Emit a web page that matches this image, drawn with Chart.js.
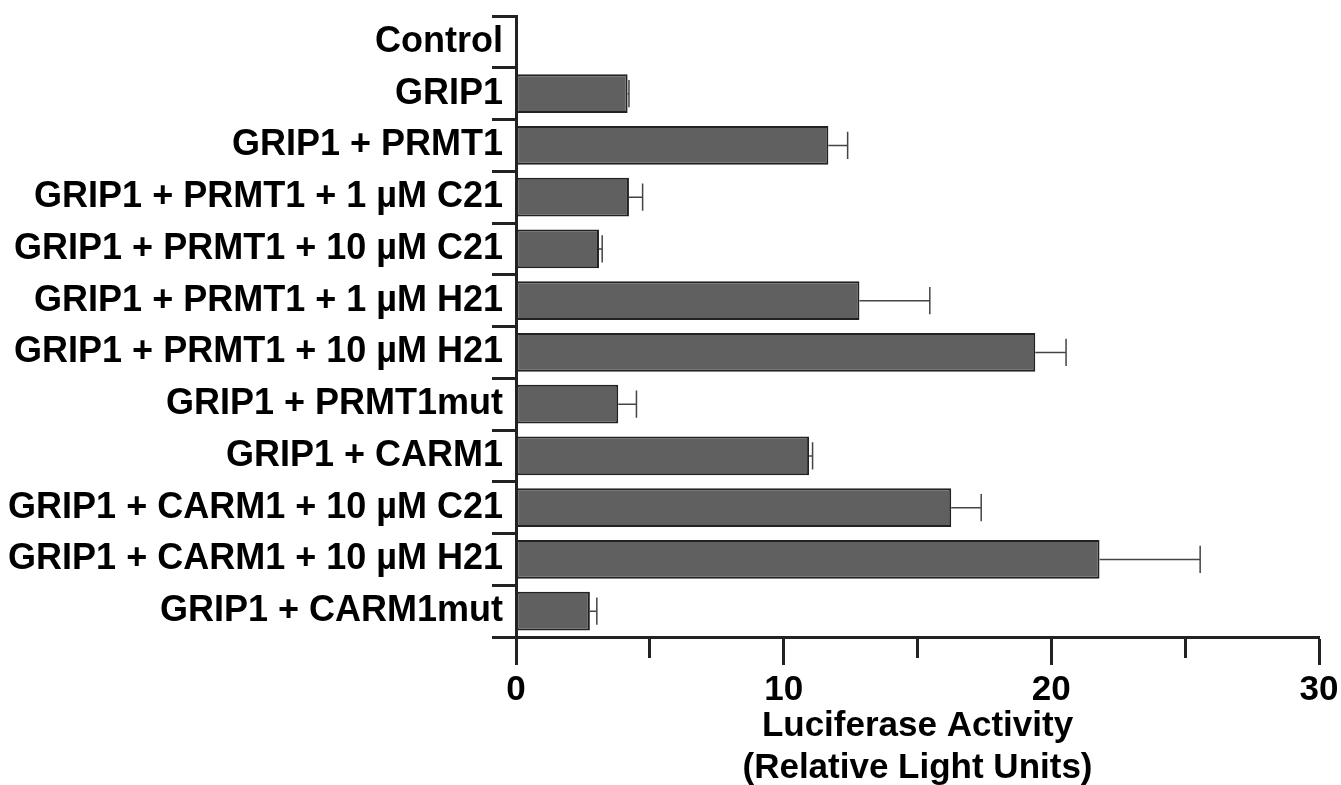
<!DOCTYPE html>
<html>
<head>
<meta charset="utf-8">
<script src="https://cdn.jsdelivr.net/npm/chart.js@4"></script>
<style>
  html, body { margin: 0; padding: 0; background: #fff; }
  #wrap { width: 1341px; height: 785px; position: relative; }
</style>
</head>
<body>
<div id="wrap"><canvas id="lucChart"></canvas></div>
<script>
// Luciferase activity by treatment
const categories = [
    'Control',
    'GRIP1',
    'GRIP1 + PRMT1',
    'GRIP1 + PRMT1 + 1 µM C21',
    'GRIP1 + PRMT1 + 10 µM C21',
    'GRIP1 + PRMT1 + 1 µM H21',
    'GRIP1 + PRMT1 + 10 µM H21',
    'GRIP1 + PRMT1mut',
    'GRIP1 + CARM1',
    'GRIP1 + CARM1 + 10 µM C21',
    'GRIP1 + CARM1 + 10 µM H21',
    'GRIP1 + CARM1mut'
];
const activity = [0, 4.17, 11.67, 4.22, 3.10, 12.83, 19.40, 3.82, 10.95, 16.26, 21.80, 2.76];
const activityErr = [0, 0.05, 0.72, 0.51, 0.12, 2.63, 1.15, 0.68, 0.13, 1.12, 3.76, 0.26];
const xTickLabels = [0, 10, 20, 30];

// one-sided error bars (right side only)
const errorBars = {
    id: 'errorBars',
    afterDatasetsDraw(chart) {
        const ctx = chart.ctx;
        const xScale = chart.scales.x;
        const meta = chart.getDatasetMeta(0);
        ctx.save();
        ctx.strokeStyle = '#444';
        ctx.lineWidth = 1.5;
        meta.data.forEach(function(bar, i) {
            const err = activityErr[i];
            if (!err) return;
            const x0 = xScale.getPixelForValue(activity[i]);
            const x1 = xScale.getPixelForValue(activity[i] + err);
            const half = bar.height * 0.35;
            ctx.beginPath();
            ctx.moveTo(x0, bar.y);
            ctx.lineTo(x1, bar.y);
            ctx.moveTo(x1, bar.y - half);
            ctx.lineTo(x1, bar.y + half);
            ctx.stroke();
        });
        ctx.restore();
    }
};

Chart.defaults.font.family = '"Liberation Sans", Arial, sans-serif';
Chart.defaults.color = '#000';

new Chart(document.getElementById('lucChart').getContext('2d'), {
    type: 'bar',
    data: {
        labels: categories,
        datasets: [{
            label: 'Luciferase Activity',
            data: activity,
            backgroundColor: '#606060',
            borderColor: '#222',
            borderWidth: 2,
            borderSkipped: false,
            barPercentage: 0.75,
            categoryPercentage: 1
        }]
    },
    options: {
        indexAxis: 'y',
        responsive: true,
        maintainAspectRatio: false,
        animation: false,
        layout: { padding: { left: 0, top: 16, right: 0, bottom: 0 } },
        plugins: {
            legend: { display: false },
            tooltip: { enabled: false }
        },
        scales: {
            x: {
                min: 0,
                max: 30,
                afterFit: function(scale) {
                    scale.height = 148;
                    scale.paddingLeft = 0;
                    scale.paddingRight = 22;
                },
                border: { display: true, color: '#222', width: 3 },
                grid: {
                    drawOnChartArea: false,
                    drawTicks: true,
                    tickLength: 28,
                    tickWidth: 3,
                    tickColor: '#222',
                    // minor ticks (5, 15, 25) drawn shorter
                    tickBorderDash: function(c) {
                        return (c.tick && xTickLabels.indexOf(c.tick.value) === -1) ? [19, 100] : [];
                    }
                },
                ticks: {
                    stepSize: 5,
                    padding: 8,
                    font: { size: 35, weight: 'bold', lineHeight: 1 },
                    callback: function(value) {
                        return xTickLabels.indexOf(value) !== -1 ? String(value) : '';
                    },
                    maxRotation: 0
                },
                title: {
                    display: true,
                    text: ['Luciferase Activity', '(Relative Light Units)'],
                    font: { size: 35, weight: 'bold', lineHeight: 1.2 },
                    color: '#000',
                    padding: { top: 0, bottom: -4 }
                }
            },
            y: {
                afterFit: function(scale) {
                    scale.width = 516;
                },
                border: { display: true, color: '#222', width: 3 },
                grid: {
                    drawOnChartArea: false,
                    drawTicks: true,
                    tickLength: 24,
                    tickWidth: 3,
                    tickColor: '#222'
                },
                ticks: {
                    padding: -11,
                    font: { size: 36, weight: 'bold' },
                    autoSkip: false
                }
            }
        }
    },
    plugins: [errorBars]
});
</script>
</body>
</html>
